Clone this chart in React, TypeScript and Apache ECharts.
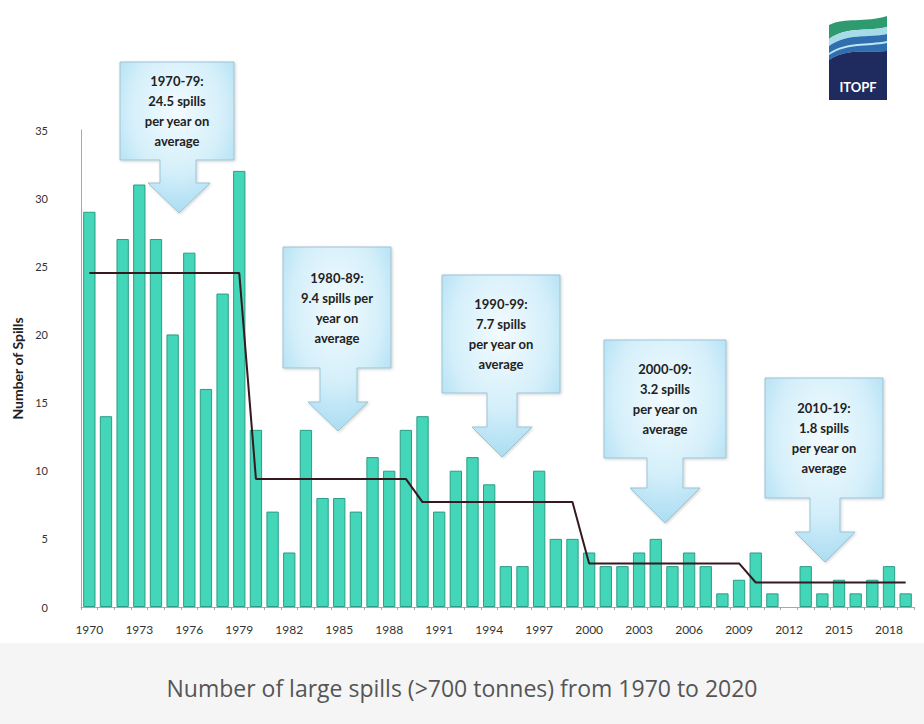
import { useEffect, useRef } from 'react';
import * as echarts from 'echarts';

// Large tanker spills (>700 tonnes) per year
const years = [
  '1970', '1971', '1972', '1973', '1974', '1975', '1976', '1977', '1978', '1979',
  '1980', '1981', '1982', '1983', '1984', '1985', '1986', '1987', '1988', '1989',
  '1990', '1991', '1992', '1993', '1994', '1995', '1996', '1997', '1998', '1999',
  '2000', '2001', '2002', '2003', '2004', '2005', '2006', '2007', '2008', '2009',
  '2010', '2011', '2012', '2013', '2014', '2015', '2016', '2017', '2018', '2019',
];
const spills = [
  29, 14, 27, 31, 27, 20, 26, 16, 23, 32,
  13, 7, 4, 13, 8, 8, 7, 11, 10, 13,
  14, 7, 10, 11, 9, 3, 3, 10, 5, 5,
  4, 3, 3, 4, 5, 3, 4, 3, 1, 2,
  4, 1, 0, 3, 1, 2, 1, 2, 3, 1,
];
const decades = ['1970-79', '1980-89', '1990-99', '2000-09', '2010-19'];
const decadeAverages = [24.5, 9.4, 7.7, 3.2, 1.8];

const yTicks = { min: 0, max: 35, interval: 5 };
const yAxisTitle = 'Number of Spills';
const caption = 'Number of large spills (>700 tonnes) from 1970 to 2020';

// Callout geometry (pixels): box, arrow shaft and arrow head
const calloutLayout = [
  { x: 120, y: 62, w: 114, h: 98, sL: 160, sR: 196, hY: 183, hL: 148, hR: 210, tipY: 213, splitPer: false },
  { x: 283, y: 247, w: 108, h: 121, sL: 320, sR: 357, hY: 402, hL: 308, hR: 368, tipY: 431, splitPer: true },
  { x: 442, y: 275, w: 118, h: 118, sL: 487, sR: 517, hY: 427, hL: 472, hR: 532, tipY: 457, splitPer: false },
  { x: 604, y: 340, w: 122, h: 118, sL: 647, sR: 683, hY: 488, hL: 630, hR: 700, tipY: 523, splitPer: false },
  { x: 765, y: 378, w: 118, h: 120, sL: 810, sR: 840, hY: 532, hL: 795, hR: 855, tipY: 562, splitPer: false },
];

const TEAL = '#43d6b8';
const TEAL_EDGE = '#2b9d87';
const LABEL_FONT = 'Lato, "Open Sans", sans-serif';

// ITOPF emblem wave bands, drawn in a 58 x 85 box
const logoShapes: { name: string; d: string; fill: string }[] = [
  { name: 'itopfGreen', d: 'M0 10 C16 2 36 8 58 1 L58 12 C38 17 18 11 0 24 Z', fill: '#2e9a6f' },
  { name: 'itopfPale', d: 'M0 24 C18 11 38 17 58 12 L58 19 C38 23 18 18 0 31 Z', fill: '#a6dcea' },
  { name: 'itopfBlue', d: 'M0 31 C18 18 38 23 58 19 L58 36 C38 38 18 33 0 45 Z', fill: '#2f6fb0' },
  { name: 'itopfLine', d: 'M0 38 C18 26 38 30 58 26 L58 28 C38 32 18 28 0 40 Z', fill: '#bfe6f2' },
  { name: 'itopfNavy', d: 'M0 45 C18 33 38 38 58 36 L58 85 L0 85 Z', fill: '#1f2a5e' },
];
logoShapes.forEach((s) => {
  echarts.graphic.registerShape(s.name, echarts.graphic.extendPath(s.d, {}));
});

function calloutGraphics() {
  const items: any[] = [];
  calloutLayout.forEach((c, i) => {
    const L = c.x;
    const R = c.x + c.w;
    const T = c.y;
    const B = c.y + c.h;
    const tipX = (c.hL + c.hR) / 2;
    const points = [
      [L, T], [R, T], [R, B], [c.sR, B], [c.sR, c.hY], [c.hR, c.hY],
      [tipX, c.tipY], [c.hL, c.hY], [c.sL, c.hY], [c.sL, B], [L, B],
    ];
    const totalH = c.tipY - T;
    const cy = (c.h / 2) / totalH;
    items.push({
      type: 'polygon',
      shape: { points },
      style: {
        fill: {
          type: 'radial', x: 0.5, y: cy, r: 0.75,
          colorStops: [
            { offset: 0, color: '#f3fbff' },
            { offset: 0.55, color: '#d4effa' },
            { offset: 1, color: '#9fd8f0' },
          ],
        },
        stroke: '#9cc3d4',
        lineWidth: 1,
        shadowBlur: 3,
        shadowColor: 'rgba(0,0,0,0.18)',
        shadowOffsetX: 1,
        shadowOffsetY: 1,
      },
      z: 20,
    });
    const avg = decadeAverages[i];
    const lines = c.splitPer
      ? [`${decades[i]}:`, `${avg} spills per`, 'year on', 'average']
      : [`${decades[i]}:`, `${avg} spills`, 'per year on', 'average'];
    items.push({
      type: 'text',
      x: (L + R) / 2,
      y: (T + B) / 2,
      style: {
        text: lines.join('\n'),
        fill: '#222',
        font: `bold 13px ${LABEL_FONT}`,
        lineHeight: 20,
        align: 'center',
        verticalAlign: 'middle',
      },
      z: 21,
    });
  });
  return items;
}

function logoGraphic() {
  return {
    type: 'group',
    x: 829,
    y: 15,
    children: [
      ...logoShapes.map((s) => ({
        type: s.name,
        style: { fill: s.fill },
      })),
      {
        type: 'text',
        x: 29,
        y: 72,
        style: {
          text: 'ITOPF',
          fill: '#ffffff',
          font: `bold 13px ${LABEL_FONT}`,
          align: 'center',
          verticalAlign: 'middle',
        },
      },
    ],
  };
}

export default function App() {
  const ref = useRef<HTMLDivElement>(null);

  useEffect(() => {
    if (!ref.current) return;
    const chart = echarts.init(ref.current, null, { renderer: 'svg' });

    const decadeLine = years.map((_, i) => decadeAverages[Math.floor(i / 10)]);
    // a zero-height bar gets no outline
    const barData = spills.map((v) =>
      v === 0 ? { value: v, itemStyle: { borderWidth: 0 } } : v
    );

    chart.setOption({
      animation: false,
      backgroundColor: '#ffffff',
      grid: { left: 81, right: 10, top: 130, bottom: 117, containLabel: false },
      xAxis: {
        type: 'category',
        data: years,
        axisLine: { lineStyle: { color: '#a8a8a8', width: 1 } },
        axisTick: { show: true, interval: 0, length: 3, lineStyle: { color: '#a8a8a8' } },
        axisLabel: {
          interval: 2,
          margin: 16,
          color: '#333',
          fontSize: 12,
          fontFamily: LABEL_FONT,
        },
      },
      yAxis: {
        type: 'value',
        min: yTicks.min,
        max: yTicks.max,
        interval: yTicks.interval,
        name: yAxisTitle,
        nameLocation: 'middle',
        nameGap: 54,
        nameRotate: 90,
        nameTextStyle: {
          color: '#222',
          fontSize: 14,
          fontWeight: 'bold',
          fontFamily: LABEL_FONT,
        },
        axisLine: { show: true, lineStyle: { color: '#a8a8a8', width: 1 } },
        axisTick: { show: false },
        splitLine: { show: false },
        axisLabel: {
          margin: 33,
          color: '#333',
          fontSize: 11,
          fontFamily: LABEL_FONT,
        },
      },
      series: [
        {
          type: 'bar',
          data: barData,
          barCategoryGap: '26%',
          itemStyle: { color: TEAL, borderColor: TEAL_EDGE, borderWidth: 1 },
          z: 2,
        },
        {
          type: 'line',
          data: decadeLine,
          symbol: 'none',
          lineStyle: { color: '#34191f', width: 2 },
          z: 5,
        },
      ],
      graphic: [
        {
          type: 'rect',
          shape: { x: 0, y: 643, width: 924, height: 81 },
          style: { fill: '#f5f5f5' },
          z: 1,
        },
        {
          type: 'text',
          x: 462,
          y: 688,
          style: {
            text: caption,
            fill: '#555555',
            font: '23px "Open Sans", sans-serif',
            align: 'center',
            verticalAlign: 'middle',
          },
          z: 2,
        },
        ...calloutGraphics(),
        logoGraphic(),
      ],
    });

    return () => chart.dispose();
  }, []);

  return (
    <div
      ref={ref}
      style={{ position: 'absolute', left: 0, top: 0, width: 924, height: 724 }}
    />
  );
}
